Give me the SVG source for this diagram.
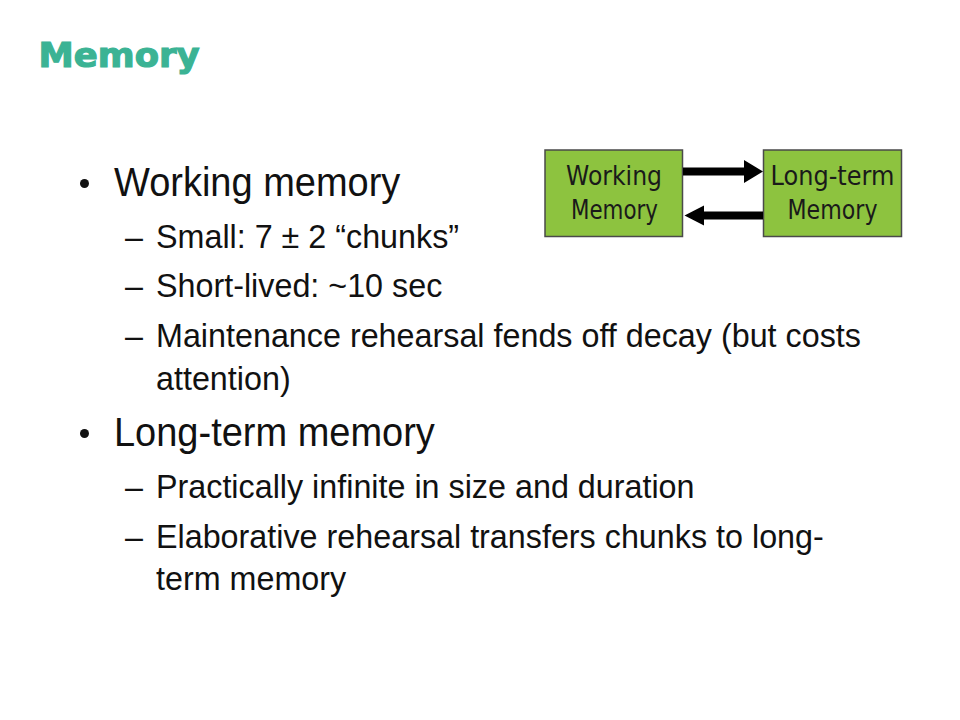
<svg xmlns="http://www.w3.org/2000/svg" width="960" height="720" viewBox="0 0 960 720">
<style>
.title{font-family:"DejaVu Sans",Verdana,sans-serif;font-weight:bold;font-size:34px;fill:#3bb394;stroke:#3bb394;stroke-width:1.2}
.main{font-family:"Liberation Sans",Arial,sans-serif;font-size:40px;fill:#111}
.sub{font-family:"Liberation Sans",Arial,sans-serif;font-size:34px;fill:#111}
.box{fill:#8dc33f;stroke:#4a4a4a;stroke-width:1.5}
.lbl{font-family:"DejaVu Sans",Verdana,sans-serif;font-size:26px;fill:#1a1a1a;text-anchor:middle}
.arrow{fill:#000}
.dot{fill:#111}
</style>
<rect width="960" height="720" fill="#ffffff"/>
<text class="title" x="38.5" y="67" textLength="161" lengthAdjust="spacingAndGlyphs">Memory</text>

<g id="bullets">
<circle class="dot" cx="84.5" cy="183.5" r="4.5"/>
<circle class="dot" cx="84.5" cy="433.5" r="4.5"/>
<g transform="scale(0.95 1)">
<text class="main" x="120" y="196">Working memory</text>
<text class="sub" x="131.6" y="248">–</text>
<text class="sub" x="164.2" y="248">Small: 7 ± 2 “chunks”</text>
<text class="sub" x="131.6" y="297">–</text>
<text class="sub" x="164.2" y="297">Short-lived: ~10 sec</text>
<text class="sub" x="131.6" y="347">–</text>
<text class="sub" x="164.2" y="347">Maintenance rehearsal fends off decay (but costs</text>
<text class="sub" x="164.2" y="390">attention)</text>
<text class="main" x="120" y="446">Long-term memory</text>
<text class="sub" x="131.6" y="498">–</text>
<text class="sub" x="164.2" y="498">Practically infinite in size and duration</text>
<text class="sub" x="131.6" y="548">–</text>
<text class="sub" x="164.2" y="548">Elaborative rehearsal transfers chunks to long-</text>
<text class="sub" x="164.2" y="590">term memory</text>
</g>
</g>

<g id="node-working">
<rect class="box" x="545" y="150" width="137.5" height="86.5"/>
<text class="lbl" x="614" y="185" textLength="96" lengthAdjust="spacingAndGlyphs">Working</text>
<text class="lbl" x="614.5" y="219" textLength="87" lengthAdjust="spacingAndGlyphs">Memory</text>
</g>

<g id="node-longterm">
<rect class="box" x="763.5" y="150" width="138" height="86.5"/>
<text class="lbl" x="832.5" y="185" textLength="124" lengthAdjust="spacingAndGlyphs">Long-term</text>
<text class="lbl" x="832.5" y="219" textLength="90" lengthAdjust="spacingAndGlyphs">Memory</text>
</g>

<g id="connectors">
<path class="arrow" d="M683,167.5 H744 V160 L763,171.5 L744,183 V175.5 H683 Z"/>
<path class="arrow" d="M763,211.5 H704 V205.5 L684.5,215.5 L704,225.5 V219.5 H763 Z"/>
</g>
</svg>
